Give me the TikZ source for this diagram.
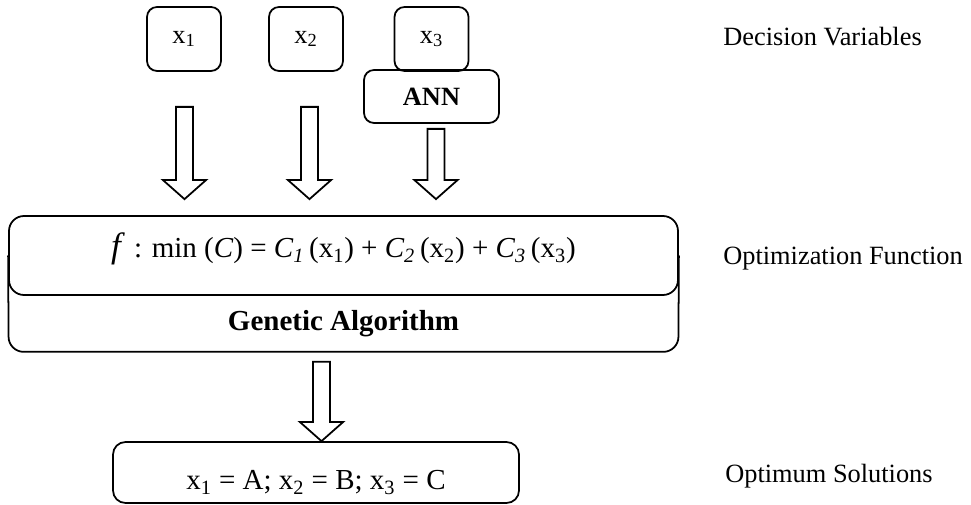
\documentclass[tikz,border=0pt]{standalone}
\usepackage{fontspec}
\setmainfont{Liberation Serif}
\usetikzlibrary{calc}

\tikzset{
  varbox/.style={draw, line width=1pt, rounded corners=0.2cm,
    minimum width=1.48cm, minimum height=1.28cm, inner sep=0pt},
  annbox/.style={draw, line width=1pt, rounded corners=0.2cm,
    minimum width=2.7cm, minimum height=1.06cm, inner sep=0pt,
    font=\fontsize{15}{18}\selectfont\bfseries},
  funcbox/.style={draw, line width=1pt, rounded corners=0.3cm,
    minimum width=13.38cm, minimum height=1.58cm, inner sep=0pt,
    text height=0.4cm, text depth=0.3cm,
    font=\fontsize{16.5}{19}\selectfont},
  gabox/.style={minimum width=13.38cm, minimum height=1.1cm,
    inner sep=0pt, font=\fontsize{16.5}{19}\selectfont\bfseries},
  solbox/.style={draw, line width=1pt, rounded corners=0.25cm,
    minimum width=8.12cm, minimum height=1.22cm, inner sep=0pt,
    text height=0.75cm, text depth=0.05cm,
    font=\fontsize{16.5}{19}\selectfont},
  sidelabel/.style={anchor=base west, inner sep=0pt}
}

% hollow block arrow: #1 = top of shaft, #2 = tip (only its y is used)
\newcommand{\blockarrow}[2]{%
  \draw[line width=1pt] let \p1=#1, \p2=#2 in
    (\x1-0.17cm,\y1) -- (\x1+0.17cm,\y1) -- (\x1+0.17cm,\y2+0.38cm)
    -- (\x1+0.43cm,\y2+0.38cm) -- (\x1,\y2) -- (\x1-0.43cm,\y2+0.38cm)
    -- (\x1-0.17cm,\y2+0.38cm) -- cycle;}

\begin{document}
\begin{tikzpicture}[font=\fontsize{15}{18}\selectfont]
          \useasboundingbox (0,0) rectangle (19.42,10.1);

          % decision variables
          \node[varbox] (x1) at (3.68,9.32) {x\textsubscript{1}};
          \node[varbox] (x2) at (6.12,9.32) {x\textsubscript{2}};
          \node[varbox] (x3) at (8.63,9.32) {x\textsubscript{3}};
          \node[annbox] (ann) at (8.63,8.17) {ANN};

          % optimization function and GA
          \node[funcbox] (func) at (6.87,4.99)
            {{\fontsize{20}{22}\selectfont\itshape f\,} : min (\textit{C}) = \textit{C\textsubscript{1}}\,(x\textsubscript{1}) + \textit{C\textsubscript{2}}\,(x\textsubscript{2}) + \textit{C\textsubscript{3}}\,(x\textsubscript{3})};
          \node[gabox] (ga) at (6.87,3.62) {Genetic Algorithm};
          \draw[line width=1pt, rounded corners=0.3cm]
            (func.west) -- (ga.south west) -- (ga.south east) -- (func.east);

          % optimum solutions
          \node[solbox] (sol) at (6.32,0.65)
            {x\textsubscript{1} = A; x\textsubscript{2} = B; x\textsubscript{3} = C};

          \blockarrow{($(x1.south)+(0.01,-0.7)$)}{($(func.north)+(0,0.32)$)}
          \blockarrow{($(x2.south)+(0.07,-0.7)$)}{($(func.north)+(0,0.32)$)}
          \blockarrow{($(ann.south)+(0.09,-0.1)$)}{($(func.north)+(0,0.32)$)}
          \blockarrow{($(ga.south)+(-0.44,-0.2)$)}{(sol.north)}

          % side labels
          \node[sidelabel] (lbldec) at (14.46,9.18) {Decision Variables};
          \node[sidelabel] (lblopt) at (14.46,4.80) {Optimization Function};
          \node[sidelabel] (lblsol) at (14.50,0.44) {Optimum Solutions};
        \end{tikzpicture}
\end{document}
